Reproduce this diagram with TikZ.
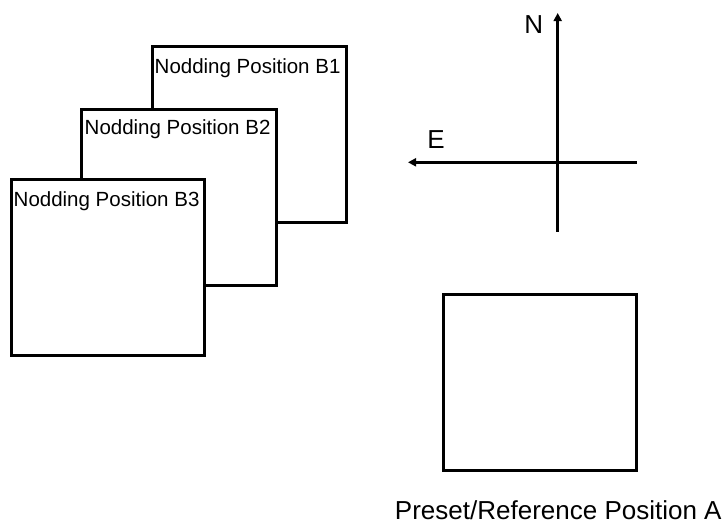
\documentclass[tikz,border=0pt]{standalone}
\usepackage{fontspec}
\setmainfont{Liberation Sans}
\usetikzlibrary{arrows.meta}
\begin{document}
\begin{tikzpicture}[x=1pt,y=-1pt,
  frame/.style={draw=black, line width=3pt, fill=white, inner sep=0pt, outer sep=0pt, anchor=north west},
  boxlabel/.style={anchor=base west, inner sep=0pt, font=\fontsize{20.5}{24}\selectfont},
  axis/.style={draw=black, line width=2.6pt},
  axisarrow/.style={axis, -{Triangle[length=8pt,width=8pt]}},
  biglabel/.style={anchor=base, inner sep=0pt, font=\fontsize{26}{30}\selectfont}]
\useasboundingbox (0,0) rectangle (726,523);
% nodding boxes
\node[frame, minimum width=194pt, minimum height=176.5pt] (b1) at (152.5,46) {};
\node[boxlabel] (l1) at (154.5,73) {Nodding Position B1};
\node[frame, minimum width=194.5pt, minimum height=175.5pt] (b2) at (81.5,109.5) {};
\node[boxlabel] (l2) at (84.5,134) {Nodding Position B2};
\node[frame, minimum width=193pt, minimum height=175.5pt] (b3) at (11.5,179.5) {};
\node[boxlabel] (l3) at (13.5,206) {Nodding Position B3};
% reference box
\node[frame, minimum width=193.5pt, minimum height=176pt] (a) at (443,294) {};
\node[biglabel] (la) at (558.3,519) {Preset/Reference Position A};
% compass
\coordinate (c) at (557.7,162.3);
\coordinate (n) at (557.7,13);
\coordinate (s) at (557.7,231.7);
\coordinate (e) at (408,162.3);
\coordinate (w) at (636.7,162.3);
\draw[axisarrow] (s) -- (n);
\draw[axisarrow] (w) -- (e);
\node[biglabel] (nl) at (533.7,33.3) {N};
\node[biglabel] (el) at (436,148.3) {E};
\end{tikzpicture}
\end{document}
